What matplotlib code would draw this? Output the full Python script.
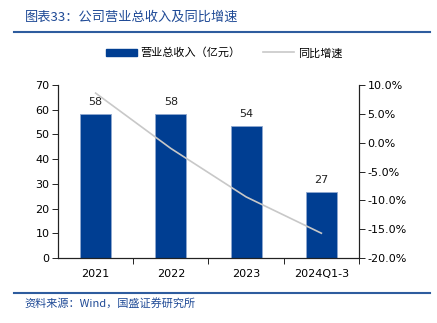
import matplotlib
matplotlib.use("Agg")
import matplotlib.pyplot as plt
from matplotlib.lines import Line2D
from matplotlib.ticker import FuncFormatter, FixedLocator

plt.rcParams['font.family'] = ['DejaVu Sans', 'Noto Sans CJK SC']
plt.rcParams['axes.unicode_minus'] = False

# revenue (100m yuan) and yoy growth
periods = ["2021", "2022", "2023", "2024Q1-3"]
revenue = [58.1, 58.4, 53.6, 26.9]
yoy_growth = [0.086, -0.010, -0.094, -0.157]

BAR_BLUE = "#003E92"
LINE_GREY = "#C8C8C8"
TEXT_BLUE = "#1F4A96"
RULE_BLUE = "#2E5C9E"

fig = plt.figure(figsize=(4.37, 3.23), dpi=100)
ax = fig.add_axes([0.1327, 0.2012, 0.6888, 0.5356])
ax2 = ax.twinx()

x = range(len(periods))
bars = ax.bar(x, revenue, width=0.41, color=BAR_BLUE, edgecolor="#8FA8D0",
              linewidth=0.6, zorder=2)
ax.bar_label(bars, fmt="%.0f", padding=5, fontsize=8, color="#222222")
ax2.plot(x, yoy_growth, color=LINE_GREY, linewidth=1.2, zorder=3)

ax.set_xlim(-0.5, 3.5)
ax.set_ylim(0, 70)
ax.set_yticks(range(0, 71, 10))
ax2.set_ylim(-0.2, 0.1)
ax2.set_yticks([-0.2, -0.15, -0.1, -0.05, 0, 0.05, 0.1])
ax2.yaxis.set_major_formatter(FuncFormatter(lambda v, p: f"{v * 100:.1f}%"))

ax.set_xticks(list(x))
ax.set_xticklabels(periods)
ax.xaxis.set_minor_locator(FixedLocator([0.5, 1.5, 2.5, 3.5]))
ax.tick_params(axis="x", which="major", length=0, pad=8, labelsize=8)
ax.tick_params(axis="x", which="minor", length=4, direction="out", width=0.6)
ax.tick_params(axis="y", length=4, width=0.6, labelsize=8, pad=2)
ax2.tick_params(axis="y", length=4, width=0.6, labelsize=8, pad=2)

for a in (ax, ax2):
    a.spines["top"].set_visible(False)
    for s in ("left", "right", "bottom"):
        a.spines[s].set_linewidth(0.8)
        a.spines[s].set_color("#222222")
ax.set_zorder(ax2.get_zorder() - 1)
ax2.patch.set_visible(False)

handles = [plt.Rectangle((0, 0), 1, 1, color=BAR_BLUE),
           Line2D([0], [0], color=LINE_GREY, linewidth=1.2)]
fig.legend(handles, ["营业总收入（亿元）", "同比增速"], loc="center",
           bbox_to_anchor=(0.513, 0.836), ncol=2, frameon=False,
           handlelength=2.8, handleheight=0.7,
           columnspacing=2.0, handletextpad=0.3,
           prop={"family": ["Noto Sans CJK SC"], "size": 8})

# header and footer
fig.text(0.057, 0.947, "图表33：公司营业总收入及同比增速", fontsize=9.5,
         color=TEXT_BLUE, va="center", style="italic",
         family=["Noto Sans CJK SC", "DejaVu Sans"])
fig.add_artist(Line2D([0.032, 0.984], [0.901, 0.901], color=RULE_BLUE,
                      linewidth=1.5))
fig.add_artist(Line2D([0.032, 0.984], [0.093, 0.093], color=RULE_BLUE,
                      linewidth=1.5))
fig.text(0.057, 0.062, "资料来源：Wind，国盛证券研究所", fontsize=8,
         color=TEXT_BLUE, va="center", style="italic",
         family=["Noto Sans CJK SC", "DejaVu Sans"])

fig.savefig("out.png", dpi=100)
